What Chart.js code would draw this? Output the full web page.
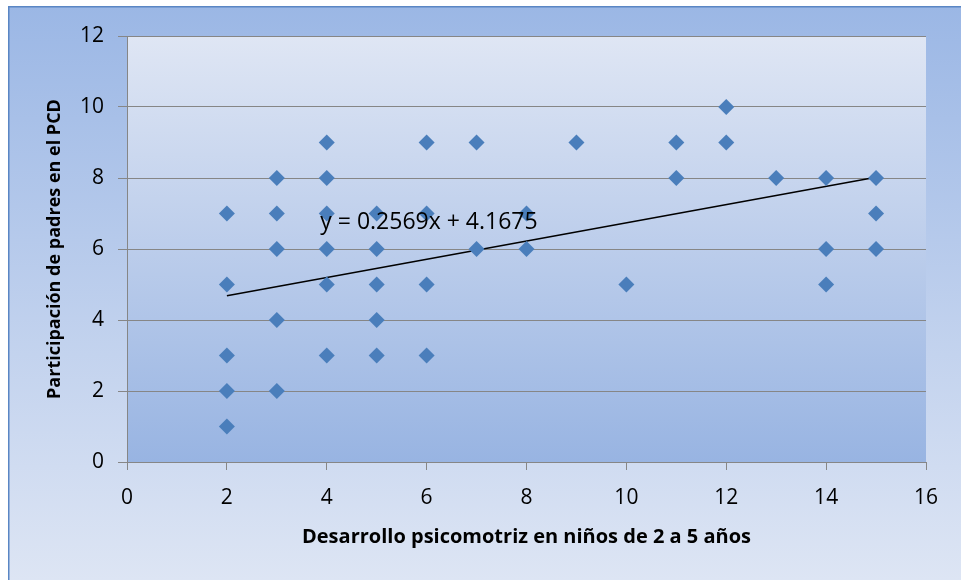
<!DOCTYPE html>
<html>
<head>
<meta charset="utf-8">
<script src="https://cdn.jsdelivr.net/npm/chart.js@4.4.0/dist/chart.umd.min.js"></script>
<style>
body { margin: 0; background: #fff; }
</style>
</head>
<body>
<canvas id="myChart" width="961" height="580"></canvas>
<script>
// datos
var desarrollo    = [2,2,2,2,2, 3,3,3,3,3, 4,4,4,4,4,4, 5,5,5,5,5, 6,6,6,6, 7,7, 8,8, 9, 10, 11,11, 12,12, 13, 14,14,14, 15,15,15];
var participacion = [7,5,3,2,1, 8,7,6,4,2, 9,8,7,6,5,3, 7,6,5,4,3, 9,7,5,3, 9,6, 7,6, 9, 5,  9,8,   10,9,  8,  8,6,5,    8,7,6];

// linea de tendencia (Excel)
var pendiente = 0.2569;
var intercepto = 4.1675;
var ecuacion = "y = 0.2569x + 4.1675";
var ecuacionPos = {x: 3.87, y: 6.74};

var xMin = 0, xMax = 16, xStep = 2;
var yMin = 0, yMax = 12, yStep = 2;

var tituloX = "Desarrollo psicomotriz en niños de 2 a 5 años";
var tituloY = "Participación de padres en el PCD";

var puntos = desarrollo.map(function (x, i) { return {x: x, y: participacion[i]}; });
var x0 = Math.min.apply(null, desarrollo), x1 = Math.max.apply(null, desarrollo);
var tendencia = [{x: x0, y: pendiente * x0 + intercepto}, {x: x1, y: pendiente * x1 + intercepto}];

<!-----------fondo degradado----------->
var fondo = {
    id: 'fondo',
    beforeDraw: function (chart) {
        var ctx = chart.ctx, a = chart.chartArea;
        ctx.save();
        ctx.fillStyle = '#fff';
        ctx.fillRect(0, 0, chart.width, chart.height);
        var g = ctx.createLinearGradient(0, 6, 0, chart.height);
        g.addColorStop(0, '#9bb7e5');
        g.addColorStop(1, '#dde5f4');
        ctx.fillStyle = g;
        ctx.fillRect(8, 6, chart.width - 8, chart.height - 6);
        ctx.strokeStyle = '#5a86c4';
        ctx.lineWidth = 1.5;
        ctx.beginPath();
        ctx.moveTo(8.75, chart.height);
        ctx.lineTo(8.75, 6.75);
        ctx.lineTo(chart.width, 6.75);
        ctx.stroke();
        var g2 = ctx.createLinearGradient(0, a.top, 0, a.bottom);
        g2.addColorStop(0, '#dfe6f4');
        g2.addColorStop(1, '#98b4e2');
        ctx.fillStyle = g2;
        ctx.fillRect(a.left, a.top, a.right - a.left, a.bottom - a.top);
        ctx.restore();
    }
};

<!-----------texto de la ecuacion----------->
var etiqueta = {
    id: 'etiqueta',
    afterDatasetsDraw: function (chart) {
        var ctx = chart.ctx;
        var px = chart.scales.x.getPixelForValue(ecuacionPos.x);
        var py = chart.scales.y.getPixelForValue(ecuacionPos.y);
        ctx.save();
        ctx.font = '23px "Open Sans"';
        ctx.fillStyle = '#000';
        ctx.textAlign = 'left';
        ctx.textBaseline = 'middle';
        ctx.fillText(ecuacion, px, py);
        ctx.restore();
    }
};

new Chart(document.getElementById("myChart"), {
    type: 'scatter',
    data: {
        datasets: [
            {
                label: 'Puntos',
                data: puntos,
                pointStyle: 'rectRot',
                pointRadius: 8,
                pointHoverRadius: 8,
                backgroundColor: '#4a7ebb',
                borderColor: '#4a7ebb',
                borderWidth: 0
            },
            {
                label: 'Tendencia',
                data: tendencia,
                showLine: true,
                borderColor: '#000',
                borderWidth: 1.5,
                pointRadius: 0,
                fill: false
            }
        ]
    },
    options: {
        responsive: false,
        animation: false,
        layout: {padding: {left: 40, right: 35, top: 36, bottom: 27}},
        plugins: {legend: {display: false}, tooltip: {enabled: false}},
        scales: {
            x: {
                type: 'linear',
                min: xMin, max: xMax,
                afterFit: function (s) { s.height = 91; },
                ticks: {stepSize: xStep, color: '#000', padding: 15, font: {family: 'Open Sans', size: 21}},
                grid: {drawOnChartArea: false, drawTicks: true, tickLength: 8, color: '#868686', lineWidth: 1},
                border: {color: '#868686', width: 1},
                title: {display: true, text: tituloX, color: '#000', font: {family: 'Open Sans', size: 20, weight: 'bold'}, padding: {top: 4, bottom: 4}}
            },
            y: {
                min: yMin, max: yMax,
                afterFit: function (s) { s.width = 87; },
                ticks: {stepSize: yStep, color: '#000', padding: 14, font: {family: 'Open Sans', size: 21}},
                grid: {color: '#868686', lineWidth: 1, tickLength: 9},
                border: {color: '#868686', width: 1},
                title: {display: true, text: tituloY, color: '#000', font: {family: 'Open Sans', size: 18, weight: 'bold'}, padding: {top: 4, bottom: 4}}
            }
        }
    },
    plugins: [fondo, etiqueta]
});
</script>
</body>
</html>
